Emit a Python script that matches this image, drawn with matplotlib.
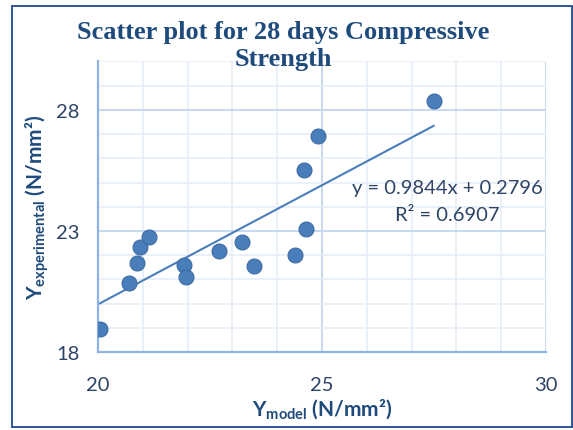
import numpy as np
import matplotlib
matplotlib.use("Agg")
import matplotlib.pyplot as plt
from matplotlib.patches import Rectangle

# values
y_model = [20.04, 20.69, 20.87, 20.94, 21.13, 21.93, 21.96, 22.71,
           23.22, 23.49, 24.39, 24.59, 24.64, 24.92, 27.49]
y_exp = [18.96, 20.86, 21.68, 22.34, 22.75, 21.61, 21.10, 22.16,
         22.53, 21.54, 21.99, 25.53, 23.10, 26.93, 28.38]

# trendline as printed on the chart
slope = 0.9844
intercept = 0.2796
r2 = 0.6907

x_ticks = [20, 25, 30]
y_ticks = [18, 23, 28]

plt.rcParams['font.family'] = ['Lato', 'DejaVu Sans']
plt.rcParams['mathtext.fontset'] = 'custom'
plt.rcParams['mathtext.rm'] = 'Lato'
plt.rcParams['mathtext.bf'] = 'Lato:bold'

navy = '#1F4A7C'
text_col = '#2E4466'
marker_col = '#4A7EBB'

fig = plt.figure(figsize=(5.73, 4.31), dpi=100)
ax = fig.add_axes([0.171, 0.181, 0.782, 0.674])

# outer frame of the chart
fig.patches.append(Rectangle((12 / 573, 3 / 431), 560 / 573, 421 / 431,
                             transform=fig.transFigure, fill=False,
                             edgecolor='#2E5597', linewidth=1.4))

ax.set_xlim(20, 30)
ax.set_ylim(18, 30)
ax.set_xticks(x_ticks)
ax.set_yticks(y_ticks)
ax.set_xticks(np.arange(20, 31, 1), minor=True)
ax.set_yticks(np.arange(18, 31, 1), minor=True)
ax.grid(True, which='major', color='#C6D9F1', linewidth=1.4)
ax.grid(True, which='minor', color='#E6EEF9', linewidth=1.2)
ax.set_axisbelow(True)

for side in ['top', 'right']:
    ax.spines[side].set_visible(False)
for side in ['left', 'bottom']:
    ax.spines[side].set_color('#8EB4E3')
    ax.spines[side].set_linewidth(1.6)

ax.tick_params(which='both', length=0)
ax.tick_params(axis='x', pad=17, labelsize=14.5, labelcolor=text_col)
ax.tick_params(axis='y', pad=13, labelsize=14.5, labelcolor=text_col)

# trendline
xs = np.array([min(y_model), max(y_model)])
ax.plot(xs, slope * xs + intercept, color=marker_col, linewidth=1.5, zorder=2)

ax.scatter(y_model, y_exp, s=115, color=marker_col, edgecolor='#3C6AA3',
           linewidth=0.8, zorder=3)

ax.text(27.8, 24.8, f'y = {slope}x + {intercept}', ha='center', va='center',
        fontsize=14.5, color=text_col)
ax.text(27.8, 23.7, f'R² = {r2}', ha='center', va='center',
        fontsize=14.5, color=text_col)

ax.set_xlabel(r'$\mathbf{Y_{model}}$ (N/mm²)', fontsize=15, fontweight='bold',
              color=navy, labelpad=3)
ax.set_ylabel(r'$\mathbf{Y_{experimental}}$ (N/mm²)', fontsize=15,
              fontweight='bold', color=navy, labelpad=4)

fig.text(0.494, 0.893, 'Scatter plot for 28 days Compressive\nStrength',
         ha='center', va='center', fontsize=19, fontweight='bold',
         family='Liberation Serif', color=navy, linespacing=1.2)

fig.savefig('out.png', dpi=100)
